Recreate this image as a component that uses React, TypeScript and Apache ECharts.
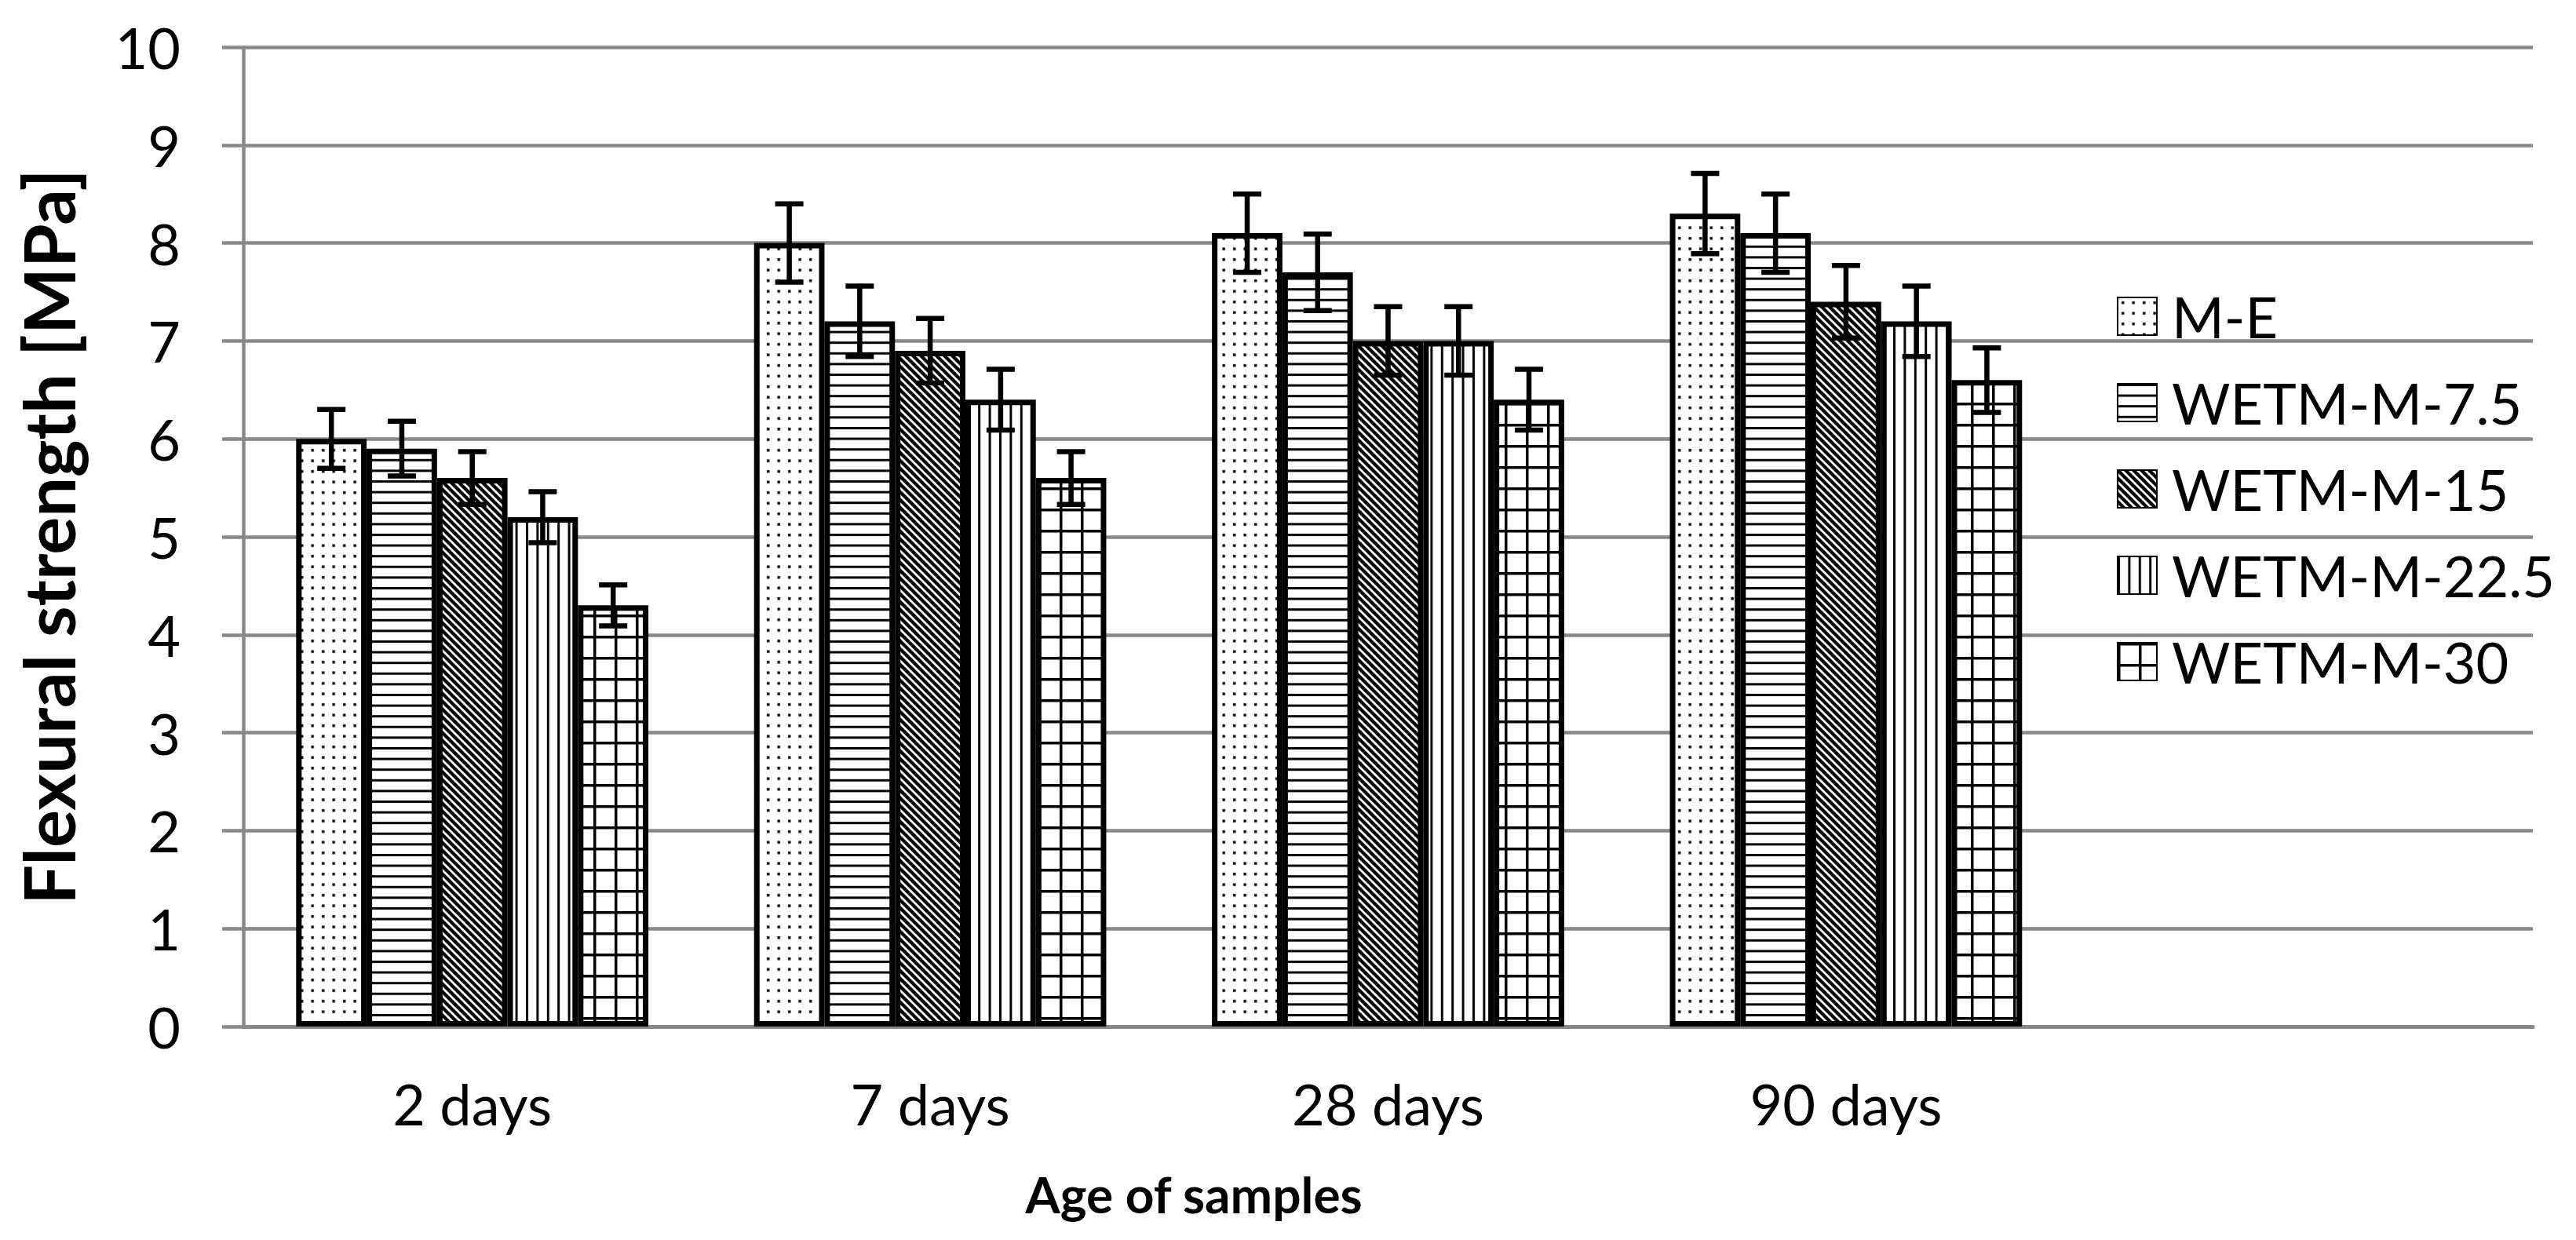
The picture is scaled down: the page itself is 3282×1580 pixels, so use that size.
import React, { useEffect, useRef } from "react";
import * as echarts from "echarts";

const categories = ["2 days", "7 days", "28 days", "90 days", ""];
const seriesNames = ["M-E", "WETM-M-7.5", "WETM-M-15", "WETM-M-22.5", "WETM-M-30"];

const valuesME = [6.0, 8.0, 8.1, 8.3];
const valuesW75 = [5.9, 7.2, 7.7, 8.1];
const valuesW15 = [5.6, 6.9, 7.0, 7.4];
const valuesW225 = [5.2, 6.4, 7.0, 7.2];
const valuesW30 = [4.3, 5.6, 6.4, 6.6];

const errME = [0.3, 0.4, 0.4, 0.41];
const errW75 = [0.28, 0.36, 0.39, 0.4];
const errW15 = [0.27, 0.33, 0.35, 0.37];
const errW225 = [0.26, 0.31, 0.35, 0.36];
const errW30 = [0.21, 0.27, 0.31, 0.33];

const yMin = 0;
const yMax = 10;
const yInterval = 1;

const allValues = [valuesME, valuesW75, valuesW15, valuesW225, valuesW30];
const allErrors = [errME, errW75, errW15, errW225, errW30];

const FONT = "Lato";

function patternOf(w: number, h: number, body: string) {
  const svg =
    `<svg xmlns="http://www.w3.org/2000/svg" width="${w}" height="${h}" viewBox="0 0 ${w} ${h}">` +
    `<rect width="${w}" height="${h}" fill="#ffffff"/>${body}</svg>`;
  return {
    image: "data:image/svg+xml;charset=utf-8," + encodeURIComponent(svg),
    repeat: "repeat",
    imageWidth: w,
    imageHeight: h,
  };
}

const patterns = [
  // dots
  patternOf(13.5, 13.5, `<rect x="5" y="5" width="3.4" height="3.4" fill="#000"/>`),
  // horizontal lines
  patternOf(13.6, 13.6, `<rect x="0" y="0" width="13.6" height="3" fill="#000"/>`),
  // downward diagonal
  patternOf(
    10,
    10,
    `<path d="M-2,8 L2,12 M0,0 L10,10 M8,-2 L12,2" stroke="#000" stroke-width="4.3" fill="none"/>`
  ),
  // vertical lines
  patternOf(13.4, 13.4, `<rect x="0" y="0" width="3" height="13.4" fill="#000"/>`),
  // grid
  patternOf(
    27,
    27,
    `<rect x="0" y="0" width="27" height="3.5" fill="#000"/><rect x="0" y="0" width="3.5" height="27" fill="#000"/>`
  ),
];

export default function App() {
  const ref = useRef<HTMLDivElement>(null);

  useEffect(() => {
    if (!ref.current) return;
    const chart = echarts.init(ref.current, null, { renderer: "svg" });

    const barSeries = seriesNames.map((name, i) => ({
      name,
      type: "bar",
      data: allValues[i],
      barGap: "0%",
      barCategoryGap: "23.08%",
      itemStyle: {
        color: patterns[i],
        borderColor: "#000",
        borderWidth: 7,
      },
      z: 2,
    }));

    const errorData: number[][] = [];
    allValues.forEach((vals, s) => {
      vals.forEach((v, c) => {
        errorData.push([c, s, v - allErrors[s][c], v + allErrors[s][c]]);
      });
    });

    const errorSeries = {
      name: "err",
      type: "custom",
      data: errorData,
      encode: { x: 0, y: [2, 3] },
      z: 5,
      renderItem: (params: any, api: any) => {
        const c = api.value(0);
        const s = api.value(1);
        const lo = api.coord([c, api.value(2)]);
        const hi = api.coord([c, api.value(3)]);
        const band = api.size([1, 0])[0];
        const bw = band / 6.5;
        const x = lo[0] + (s - 2) * bw;
        const cap = 18;
        const st = { stroke: "#000", lineWidth: 6.5 };
        return {
          type: "group",
          children: [
            { type: "line", shape: { x1: x, y1: hi[1], x2: x, y2: lo[1] }, style: st },
            { type: "line", shape: { x1: x - cap, y1: hi[1], x2: x + cap, y2: hi[1] }, style: st },
            { type: "line", shape: { x1: x - cap, y1: lo[1], x2: x + cap, y2: lo[1] }, style: st },
          ],
        };
      },
    };

    chart.setOption({
      animation: false,
      backgroundColor: "#ffffff",
      textStyle: { fontFamily: FONT },
      grid: { left: 310, right: 55, top: 60, bottom: 272, containLabel: false },
      legend: {
        data: seriesNames,
        orient: "vertical",
        left: 2697,
        top: 367,
        padding: 0,
        itemWidth: 50,
        itemHeight: 48,
        itemGap: 38,
        icon: "rect",
        textStyle: {
          fontFamily: FONT,
          fontSize: 72,
          color: "#000",
          padding: [0, 0, 0, 14],
        },
      },
      xAxis: {
        type: "category",
        data: categories,
        axisLine: { show: true, lineStyle: { color: "#898989", width: 5 } },
        axisTick: { show: false },
        axisLabel: {
          fontFamily: FONT,
          fontSize: 72,
          color: "#000",
          margin: 62,
          interval: 0,
        },
      },
      yAxis: {
        type: "value",
        min: yMin,
        max: yMax,
        interval: yInterval,
        name: "Flexural strength [MPa]",
        nameLocation: "middle",
        nameGap: 204,
        nameTextStyle: {
          fontFamily: FONT,
          fontSize: 90,
          fontWeight: "bold",
          color: "#000",
        },
        axisLine: { show: true, lineStyle: { color: "#898989", width: 4.5 } },
        axisTick: { show: true, length: 27, lineStyle: { color: "#898989", width: 4.5 } },
        splitLine: { show: true, lineStyle: { color: "#898989", width: 4.5 } },
        axisLabel: {
          fontFamily: FONT,
          fontSize: 72,
          color: "#000",
          margin: 80,
        },
      },
      graphic: [
        {
          type: "text",
          x: 1521,
          y: 1521,
          style: {
            text: "Age of samples",
            fontFamily: FONT,
            fontSize: 64,
            fontWeight: "bold",
            fill: "#000",
            textAlign: "center",
            textVerticalAlign: "middle",
          },
        },
      ],
      series: [...barSeries, errorSeries],
    });

    return () => chart.dispose();
  }, []);

  return (
    <div
      ref={ref}
      style={{ position: "absolute", left: 0, top: 0, width: 3282, height: 1580 }}
    />
  );
}
